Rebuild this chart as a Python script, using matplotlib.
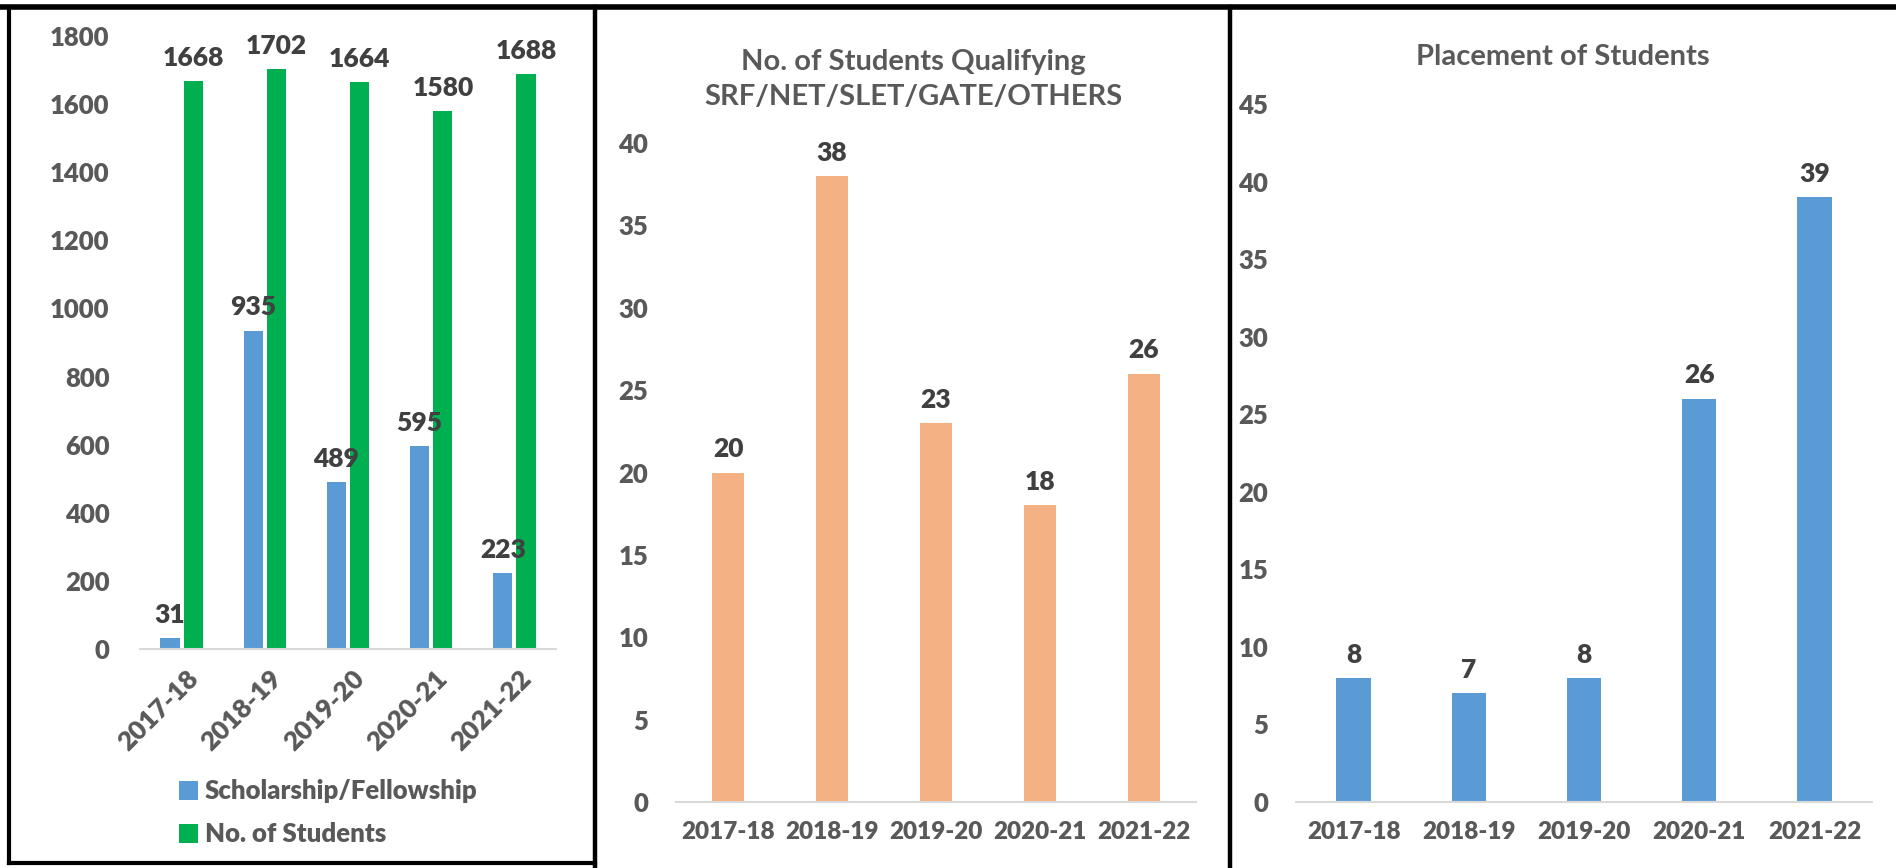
import matplotlib.pyplot as plt
from matplotlib.lines import Line2D
import numpy as np

plt.rcParams['font.family'] = ['Lato', 'DejaVu Sans']

years = ['2017-18', '2018-19', '2019-20', '2020-21', '2021-22']
scholarship = [31, 935, 489, 595, 223]
students = [1668, 1702, 1664, 1580, 1688]
qualifying = [20, 38, 23, 18, 26]
placement = [8, 7, 8, 26, 39]

blue = '#5B9BD5'
green = '#00B050'
orange = '#F4B183'
tick_col = '#595959'
lab_col = '#404040'
W, H = 1896, 868


def px_rect(left, right, bottom, top):
    # pixel box -> figure fraction rect
    return [left / W, 1 - bottom / H, (right - left) / W, (bottom - top) / H]


def style(ax, pad, xsize=17.5):
    for s in ['top', 'right', 'left']:
        ax.spines[s].set_visible(False)
    ax.spines['bottom'].set_color('#D9D9D9')
    ax.spines['bottom'].set_linewidth(1.5)
    ax.tick_params(axis='both', length=0, labelcolor=tick_col)
    ax.tick_params(axis='y', pad=pad, labelsize=18.5)
    ax.tick_params(axis='x', labelsize=xsize)
    for t in ax.get_xticklabels() + ax.get_yticklabels():
        t.set_fontweight('heavy')


def label_bars(ax, bars, vals):
    for b, v in zip(bars, vals):
        ax.annotate(str(v), (b.get_x() + b.get_width() / 2, b.get_height()),
                    xytext=(0, 11), textcoords='offset points', ha='center',
                    va='baseline', fontsize=19, fontweight='heavy', color=lab_col)


fig = plt.figure(figsize=(W / 100, H / 100), dpi=100)
x = np.arange(len(years))

# panel 1
ax1 = fig.add_axes(px_rect(140, 556, 649, 36))
b1 = ax1.bar(x - 0.14, scholarship, 0.23, color=blue, label='Scholarship/Fellowship')
b2 = ax1.bar(x + 0.14, students, 0.23, color=green, label='No. of Students')
ax1.set_xlim(-0.5, 4.5)
ax1.set_ylim(0, 1800)
ax1.set_yticks(range(0, 1801, 200))
ax1.set_xticks(x + 0.05)
ax1.set_xticklabels(years, rotation=45, ha='right', rotation_mode='anchor')
style(ax1, 22, 19)
ax1.tick_params(axis='x', pad=12)
label_bars(ax1, b1, scholarship)
label_bars(ax1, b2, students)
ax1.legend(loc='upper left', bbox_to_anchor=(156 / W, 1 - 756 / H),
           bbox_transform=fig.transFigure, frameon=False, ncol=1,
           handlelength=0.75, handleheight=0.75, handletextpad=0.25,
           labelspacing=0.75, prop={'size': 18.5, 'weight': 'heavy'},
           labelcolor=tick_col)

# panel 2
ax2 = fig.add_axes(px_rect(676, 1196, 802, 143))
b3 = ax2.bar(x, qualifying, 0.31, color=orange)
ax2.set_xlim(-0.5, 4.5)
ax2.set_ylim(0, 40)
ax2.set_yticks(range(0, 41, 5))
ax2.set_xticks(x)
ax2.set_xticklabels(years)
style(ax2, 20)
ax2.tick_params(axis='x', pad=14)
label_bars(ax2, b3, qualifying)
fig.text(913 / W, 1 - 70 / H, 'No. of Students Qualifying', ha='center',
         va='baseline', fontsize=21, fontweight='bold', color=tick_col)
fig.text(913 / W, 1 - 105 / H, 'SRF/NET/SLET/GATE/OTHERS', ha='center',
         va='baseline', fontsize=21, fontweight='bold', color=tick_col)

# panel 3
ax3 = fig.add_axes(px_rect(1296, 1872, 802, 104))
b4 = ax3.bar(x, placement, 0.30, color=blue)
ax3.set_xlim(-0.5, 4.5)
ax3.set_ylim(0, 45)
ax3.set_yticks(range(0, 46, 5))
ax3.set_xticks(x)
ax3.set_xticklabels(years)
style(ax3, 20)
ax3.tick_params(axis='x', pad=14)
label_bars(ax3, b4, placement)
fig.text(1563 / W, 1 - 65 / H, 'Placement of Students', ha='center',
         va='baseline', fontsize=21, fontweight='bold', color=tick_col)

# panel borders
borders = [
    ((0, W), (7, 7), 4),
    ((9, 9), (7, 863), 3),
    ((9, 595), (863, 863), 3),
    ((595, 595), (7, H), 3.2),
    ((1230, 1230), (7, H), 3.2),
]
for xs, ys, lw in borders:
    fig.add_artist(Line2D([v / W for v in xs], [1 - v / H for v in ys],
                          color='black', lw=lw, transform=fig.transFigure))

fig.savefig('out.png', dpi=100, facecolor='white')
